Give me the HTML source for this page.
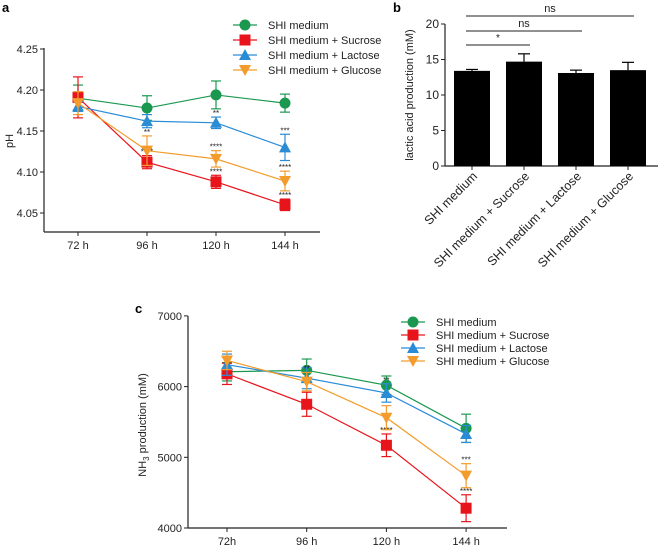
<!DOCTYPE html>
<html><head><meta charset="utf-8">
<style>
body{margin:0;background:#fff;font-family:"Liberation Sans",Arial,sans-serif;}
svg text{font-family:"Liberation Sans",Arial,sans-serif;}
</style></head>
<body>
<svg id="fig" width="658" height="546" viewBox="0 0 658 546"></svg>
<script>
// Panel a data
const timeLabels = ["72 h","96 h","120 h","144 h"];
const aGreen = [4.190,4.178,4.194,4.184], aGreenErr=[0.016,0.015,0.017,0.011];
const aRed = [4.191,4.112,4.088,4.060], aRedErr=[0.025,0.008,0.008,0.007];
const aBlue = [4.180,4.162,4.160,4.130], aBlueErr=[0.006,0.008,0.007,0.016];
const aOrange = [4.184,4.126,4.116,4.089], aOrangeErr=[0.014,0.018,0.010,0.012];
const aTicks = [4.05,4.10,4.15,4.20,4.25];
const aTickLabels = ["4.05","4.10","4.15","4.20","4.25"];
// Panel b data
const bCats = ["SHI medium","SHI medium + Sucrose","SHI medium + Lactose","SHI medium + Glucose"];
const bVals = [13.4,14.7,13.1,13.5];
const bErr = [0.2,1.1,0.4,1.1];
const bTicks = [0,5,10,15,20];
// Panel c data
const cLabels = ["72h","96 h","120 h","144 h"];
const cGreen = [6210,6230,6020,5410], cGreenErr=[130,160,130,200];
const cRed = [6180,5750,5170,4280], cRedErr=[150,170,160,190];
const cBlue = [6310,6120,5910,5330], cBlueErr=[150,150,130,120];
const cOrange = [6370,6070,5560,4740], cOrangeErr=[130,130,170,170];
const cTicks = [4000,5000,6000,7000];
const legendNames = ["SHI medium","SHI medium + Sucrose","SHI medium + Lactose","SHI medium + Glucose"];

const NS="http://www.w3.org/2000/svg";
const svg=document.getElementById('fig');
function el(tag,attrs,parent,txt){const e=document.createElementNS(NS,tag);for(const k in attrs)e.setAttribute(k,attrs[k]);if(txt!==undefined)e.textContent=txt;(parent||svg).appendChild(e);return e;}
const COLS=["#1a9850","#e8141c","#2b8cd6","#f39c2d"];

function marker(g,k,x,y,c){
  if(k===0) el('circle',{cx:x,cy:y,r:5.5,fill:c},g);
  else if(k===1) el('rect',{x:x-5.5,y:y-5.5,width:11,height:11,fill:c},g);
  else if(k===2) el('polygon',{points:`${x},${y-6} ${x-6},${y+5} ${x+6},${y+5}`,fill:c},g);
  else el('polygon',{points:`${x},${y+6} ${x-6},${y-5} ${x+6},${y-5}`,fill:c},g);
}

function linePanel(name,xs,sx,sy,series,errs,stars){
  const g=el('g',{},svg);
  
  
  series.forEach((s,k)=>{
    const sg=el('g',{},g);
    
    
    const pts=s.map((v,i)=>sx(i)+','+sy(v)).join(' ');
    el('polyline',{points:pts,fill:'none',stroke:COLS[k],'stroke-width':1.2},sg);
    s.forEach((v,i)=>{
      const x=sx(i),y1=sy(v+errs[k][i]),y2=sy(v-errs[k][i]);
      el('line',{x1:x,x2:x,y1:y1,y2:y2,stroke:COLS[k],'stroke-width':1.2},sg);
      el('line',{x1:x-5,x2:x+5,y1:y1,y2:y1,stroke:COLS[k],'stroke-width':1.2},sg);
      el('line',{x1:x-5,x2:x+5,y1:y2,y2:y2,stroke:COLS[k],'stroke-width':1.2},sg);
      marker(sg,k,x,sy(v),COLS[k]);
      const st=stars[k]&&stars[k][i];
      if(st){const t=el('text',{x:x,y:y1-1,'font-size':8,'text-anchor':'middle',fill:'#222'},sg,st);
        }
    });
  });
}

function legend(name,x,y,dy){
  const g=el('g',{},svg);
  
  
  legendNames.forEach((n,k)=>{
    const e=el('g',{},g);
    
    
    const yy=y+k*dy;
    el('line',{x1:x-12,x2:x+12,y1:yy,y2:yy,stroke:COLS[k],'stroke-width':1.2},e);
    marker(e,k,x,yy,COLS[k]);
    el('text',{x:x+23,y:yy+4,'font-size':11,fill:'#222'},e,n);
  });
}

// ---------- Panel a ----------
(function(){
  const X0=44,X1=320,YB=232;
  const sx=i=>78+i*69;
  const sy=v=>213-(v-4.05)/0.05*41;
  el('text',{x:2,y:12,'font-size':13,'font-weight':'bold'},svg,'a');
  const ax=el('g',{},svg);
  el('line',{x1:X0,x2:X0,y1:48,y2:YB,stroke:'#222','stroke-width':1.2},ax);
  el('line',{x1:X0,x2:X1,y1:YB,y2:YB,stroke:'#222','stroke-width':1.2},ax);
  aTicks.forEach((t,i)=>{const y=sy(t);el('line',{x1:X0-4,x2:X0,y1:y,y2:y,stroke:'#222'},ax);
    el('text',{x:X0-6,y:y+4,'font-size':11,'text-anchor':'end',fill:'#222'},ax,aTickLabels[i]);});
  timeLabels.forEach((t,i)=>{el('line',{x1:sx(i),x2:sx(i),y1:YB,y2:YB+4,stroke:'#222'},ax);
    el('text',{x:sx(i),y:YB+17,'font-size':11,'text-anchor':'middle',fill:'#222'},ax,t);});
  const yt=el('text',{x:0,y:0,'font-size':11,'text-anchor':'middle',transform:`translate(13,141) rotate(-90)`,fill:'#222'},ax,'pH');
  
  linePanel('panel-a-series',timeLabels,sx,sy,[aGreen,aRed,aBlue,aOrange],[aGreenErr,aRedErr,aBlueErr,aOrangeErr],
    [null,[null,'****','****','****'],[null,null,'**','***'],[null,'**','****','****']]);
  legend('panel-a-legend',245,25,15);
})();

// ---------- Panel b ----------
(function(){
  const X0=445,X1=658,YB=166;
  const sy=v=>166-v/20*142;
  const sx=i=>472+i*52;
  el('text',{x:393,y:12,'font-size':13,'font-weight':'bold'},svg,'b');
  const ax=el('g',{},svg);
  bVals.forEach((v,i)=>{
    const b=el('rect',{x:sx(i)-18,y:sy(v),width:36,height:YB-sy(v),fill:'#000'},svg);
    
    const x=sx(i),yt=sy(v+bErr[i]);
    el('line',{x1:x,x2:x,y1:yt,y2:sy(v),stroke:'#000','stroke-width':1.2},svg);
    el('line',{x1:x-6,x2:x+6,y1:yt,y2:yt,stroke:'#000','stroke-width':1.2},svg);
  });
  el('line',{x1:X0,x2:X0,y1:24,y2:YB,stroke:'#222','stroke-width':1.2},ax);
  el('line',{x1:X0,x2:X1,y1:YB,y2:YB,stroke:'#222','stroke-width':1.2},ax);
  bTicks.forEach(t=>{const y=sy(t);el('line',{x1:X0-4,x2:X0,y1:y,y2:y,stroke:'#222'},ax);
    el('text',{x:X0-6,y:y+4,'font-size':12,'text-anchor':'end',fill:'#222'},ax,String(t));});
  bCats.forEach((c,i)=>{el('line',{x1:sx(i),x2:sx(i),y1:YB,y2:YB+4,stroke:'#222'},ax);
    el('text',{x:0,y:0,'font-size':12.5,'text-anchor':'end',fill:'#222',transform:`translate(${sx(i)+6},${YB+11}) rotate(-45)`},ax,c);});
  el('text',{x:0,y:0,'font-size':11,'text-anchor':'middle',fill:'#222',transform:'translate(413,95) rotate(-90)'},ax,'lactic acid production (mM)');
  const sig=[[0,1,'*',43],[0,2,'ns',29],[0,3,'ns',14]];
  sig.forEach(s=>{const g=el('g',{},svg);
    el('line',{x1:sx(s[0])-6,x2:sx(s[1])+6,y1:s[3]+2,y2:s[3]+2,stroke:'#222','stroke-width':1},g);
    el('text',{x:(sx(s[0])+sx(s[1]))/2,y:s[3]-2,'font-size':s[2]==='*'?10:11,'text-anchor':'middle',fill:'#222'},g,s[2]);});
})();

// ---------- Panel c ----------
(function(){
  const X0=188,X1=507,YB=528;
  const sx=i=>227+i*79.7;
  const sy=v=>528-(v-4000)/1000*70.7;
  el('text',{x:135,y:313,'font-size':13,'font-weight':'bold'},svg,'c');
  const ax=el('g',{},svg);
  el('line',{x1:X0,x2:X0,y1:316,y2:YB,stroke:'#222','stroke-width':1.2},ax);
  el('line',{x1:X0,x2:X1,y1:YB,y2:YB,stroke:'#222','stroke-width':1.2},ax);
  cTicks.forEach(t=>{const y=sy(t);el('line',{x1:X0-4,x2:X0,y1:y,y2:y,stroke:'#222'},ax);
    el('text',{x:X0-6,y:y+4,'font-size':11,'text-anchor':'end',fill:'#222'},ax,String(t));});
  cLabels.forEach((t,i)=>{el('line',{x1:sx(i),x2:sx(i),y1:YB,y2:YB+4,stroke:'#222'},ax);
    el('text',{x:sx(i),y:YB+17,'font-size':11,'text-anchor':'middle',fill:'#222'},ax,t);});
  const yt=el('text',{x:0,y:0,'font-size':11,'text-anchor':'middle',fill:'#222',transform:'translate(146,425) rotate(-90)'},ax);
  
  el('tspan',{},yt,'NH');el('tspan',{'font-size':8,dy:3},yt,'3');el('tspan',{dy:-3},yt,' production (mM)');
  linePanel('panel-c-series',cLabels,sx,sy,[cGreen,cRed,cBlue,cOrange],[cGreenErr,cRedErr,cBlueErr,cOrangeErr],
    [null,[null,null,'****','****'],[null,null,'**',null],[null,'**',null,'***']]);
  legend('panel-c-legend',413,322,13);
})();
</script>
</body></html>
